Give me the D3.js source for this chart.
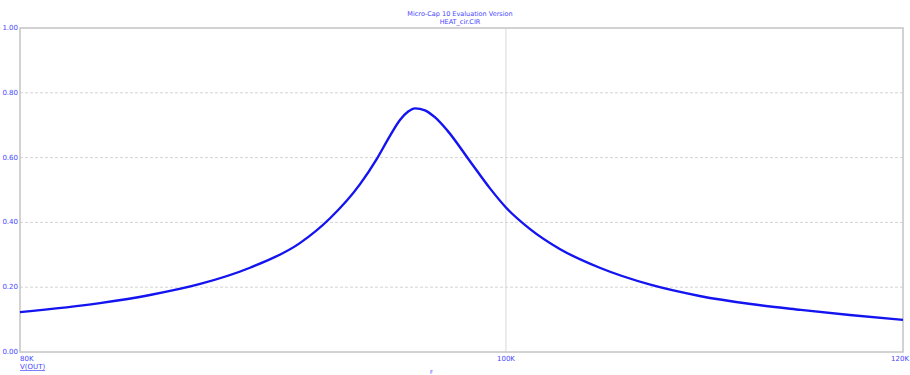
<!DOCTYPE html>
<html lang="en">
<head>
    <meta charset="UTF-8">
    <title>HEAT_cir.CIR</title>
    <script src="https://d3js.org/d3.v7.min.js"></script>
    <style>
        body { margin: 0; background: #fff; }
        text { font-family: "DejaVu Sans", sans-serif; fill: #4646ff; }
    </style>
</head>
<body>
    <div id="chart"></div>
    <script>
        // frequency (Hz) and V(OUT)
        const freq = [80000, 82990, 84920, 86900, 88910, 90970, 92230, 93520, 94250, 94820,
            95250, 95610, 95910, 96350, 96800, 97340, 98370, 99270, 100000, 101100,
            102500, 104400, 106900, 109300, 111900, 114500, 117100, 120000];
        const vout = [0.123, 0.151, 0.176, 0.210, 0.260, 0.336, 0.412, 0.518, 0.597, 0.668,
            0.716, 0.742, 0.752, 0.746, 0.724, 0.684, 0.588, 0.505, 0.446, 0.380,
            0.318, 0.260, 0.207, 0.173, 0.148, 0.130, 0.114, 0.099];
        const yTicks = [0, 0.2, 0.4, 0.6, 0.8, 1.0];
        const xTicks = [80000, 100000, 120000];

        const width = 910, height = 375;
        const margin = { top: 28, right: 7, bottom: 23, left: 20 };

        const svg = d3.select("#chart").append("svg")
            .attr("width", width)
            .attr("height", height);

        const x = d3.scaleLog()
            .domain([80000, 120000])
            .range([margin.left, width - margin.right]);
        const y = d3.scaleLinear()
            .domain([0, 1])
            .range([height - margin.bottom, margin.top]);

        // horizontal dashed grid
        svg.append("g")
            .selectAll("line")
            .data(yTicks.filter(d => d > 0 && d < 1))
            .join("line")
            .attr("x1", margin.left).attr("x2", width - margin.right)
            .attr("y1", d => y(d)).attr("y2", d => y(d))
            .attr("stroke", "#d4d4d4")
            .attr("stroke-dasharray", "3,2");

        // vertical grid at 100K
        svg.append("line")
            .attr("x1", x(100000)).attr("x2", x(100000))
            .attr("y1", margin.top).attr("y2", height - margin.bottom)
            .attr("stroke", "#d8d8d8");

        // frame
        svg.append("rect")
            .attr("x", margin.left).attr("y", margin.top)
            .attr("width", width - margin.left - margin.right)
            .attr("height", height - margin.top - margin.bottom)
            .attr("fill", "none")
            .attr("stroke", "#c4c4c4")
            .attr("stroke-width", 1.5);

        // y labels
        svg.append("g")
            .selectAll("text")
            .data(yTicks)
            .join("text")
            .attr("x", margin.left - 2)
            .attr("y", d => y(d) + 2)
            .attr("text-anchor", "end")
            .attr("font-size", 7)
            .text(d => d.toFixed(2));

        // x labels: first left-aligned, last right-aligned, others centred
        const anchors = ["start", "middle", "end"];
        svg.append("g")
            .selectAll("text")
            .data(xTicks)
            .join("text")
            .attr("x", (d, i) => i === xTicks.length - 1 ? width - 1 : x(d))
            .attr("y", height - margin.bottom + 9)
            .attr("text-anchor", (d, i) => anchors[i])
            .attr("font-size", 7)
            .text(d => (d / 1000) + "K");

        svg.append("text")
            .attr("x", margin.left)
            .attr("y", height - margin.bottom + 17)
            .attr("font-size", 7)
            .attr("text-decoration", "underline")
            .text("V(OUT)");

        svg.append("text")
            .attr("x", 430)
            .attr("y", 374)
            .attr("font-size", 5)
            .attr("fill", "#8080ff")
            .text("F");

        // title
        svg.append("text")
            .attr("x", 460).attr("y", 16)
            .attr("text-anchor", "middle")
            .attr("font-size", 6.5)
            .text("Micro-Cap 10 Evaluation Version");
        svg.append("text")
            .attr("x", 460).attr("y", 24)
            .attr("text-anchor", "middle")
            .attr("font-size", 6.5)
            .text("HEAT_cir.CIR");

        // curve
        const line = d3.line()
            .x(d => x(d[0]))
            .y(d => y(d[1]))
            .curve(d3.curveMonotoneX);

        svg.append("path")
            .datum(d3.zip(freq, vout))
            .attr("d", line)
            .attr("fill", "none")
            .attr("stroke", "#1414f0")
            .attr("stroke-width", 2.4);
    </script>
</body>
</html>
